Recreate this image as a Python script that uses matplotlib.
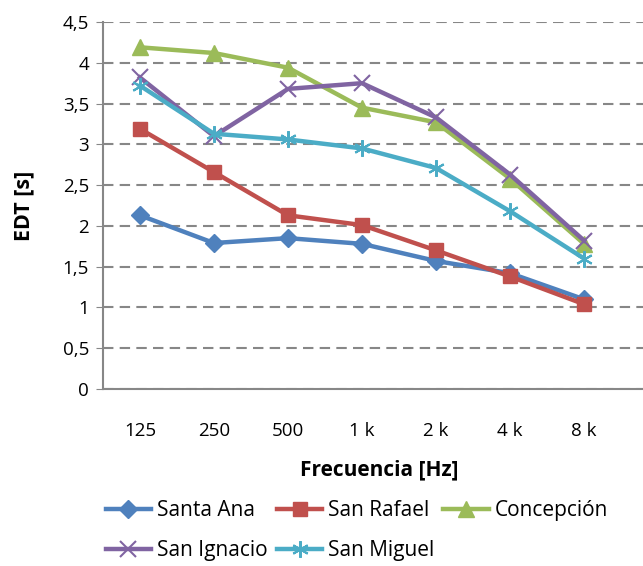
import matplotlib.pyplot as plt

# datos EDT por banda de frecuencia
bandas = ['125', '250', '500', '1 k', '2 k', '4 k', '8 k']
santa_ana = [2.13, 1.79, 1.85, 1.78, 1.57, 1.42, 1.10]
san_rafael = [3.19, 2.66, 2.13, 2.01, 1.70, 1.38, 1.04]
concepcion = [4.19, 4.12, 3.94, 3.45, 3.27, 2.58, 1.78]
san_ignacio = [3.82, 3.10, 3.68, 3.75, 3.33, 2.63, 1.82]
san_miguel = [3.72, 3.13, 3.06, 2.95, 2.71, 2.18, 1.60]

plt.rcParams['font.family'] = ['Open Sans', 'DejaVu Sans']

fig = plt.figure(figsize=(6.43, 5.66), dpi=100)
ax = fig.add_axes([0.160, 0.3127, 0.86, 0.6484])

x = list(range(len(bandas)))
series = [
    ('Santa Ana', santa_ana, '#4F81BD', 'D', 9.5),
    ('San Rafael', san_rafael, '#C0504D', 's', 10.5),
    ('Concepción', concepcion, '#9BBB59', '^', 11.5),
    ('San Ignacio', san_ignacio, '#8064A2', 'x', 11),
    ('San Miguel', san_miguel, '#4BACC6', (6, 2, 0), 12),
]
lineas = []
for nombre, vals, col, mk, ms in series:
    l, = ax.plot(x, vals, color=col, lw=3.2, marker=mk, markersize=ms,
                 markeredgewidth=1.5 if mk in ('x',) or isinstance(mk, tuple) else 1,
                 markeredgecolor=col, markerfacecolor=col, label=nombre)
    lineas.append(l)

ax.set_ylim(0, 4.5)
ax.set_xlim(-0.5, 6.97)
ax.set_yticks([0, 0.5, 1, 1.5, 2, 2.5, 3, 3.5, 4, 4.5])
ax.set_yticklabels(['0', '0,5', '1', '1,5', '2', '2,5', '3', '3,5', '4', '4,5'])
ax.set_xticks(x)
ax.set_xticklabels(bandas)
ax.tick_params(axis='y', labelsize=13.5, length=5, color='#878787', pad=5)
ax.tick_params(axis='x', labelsize=13.5, length=0, pad=24)

ax.grid(axis='y', linestyle=(0, (5, 3)), color='#878787', lw=1.5)
ax.set_axisbelow(True)
for s in ['top', 'right']:
    ax.spines[s].set_visible(False)
for s in ['left', 'bottom']:
    ax.spines[s].set_color('#878787')
    ax.spines[s].set_linewidth(1.5)

ax.set_ylabel('EDT [s]', fontsize=15.5, fontweight='bold', labelpad=20)
ax.set_xlabel('Frecuencia [Hz]', fontsize=15, fontweight='bold', labelpad=14)

orden = [0, 3, 1, 4, 2]
fig.legend([lineas[i] for i in orden], [series[i][0] for i in orden],
           ncol=3, loc='lower left', bbox_to_anchor=(0.135, -0.024),
           frameon=False, fontsize=15, handlelength=2.2, columnspacing=0.45,
           handletextpad=0.25, labelspacing=0.9)

fig.savefig('out.png', dpi=100)
